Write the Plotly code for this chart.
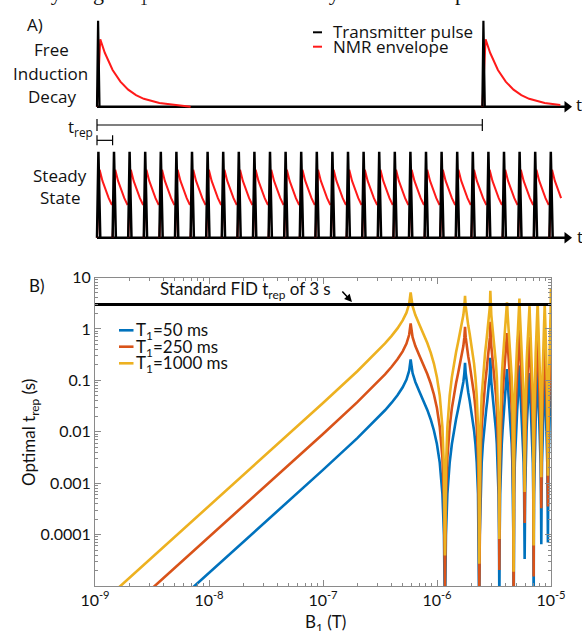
import plotly.graph_objects as go

W, H = 582, 631


def px(x):
    return x / W


def py(y):
    return 1 - y / H


# ---------------- Panel A data (time in units of the steady-state t_rep) ----------------
fid_pulse_times = [0.0, 24.7]
ss_pulse_times = [0, 1, 2, 3, 4, 5, 6, 7, 8, 9, 10, 11, 12, 13, 14,
                  15, 16, 17, 18, 19, 20, 21, 22, 23, 24, 25, 26, 27, 28, 29]
fid_pulse_dt = [0.0, 0.07, 0.16]
ss_pulse_dt = [0.0, 0.09, 0.21]
pulse_amp = [0.0, 1.0, 0.0]
fid_env_dt = [0.0, 0.21, 0.5, 1.0, 1.5, 2.0, 2.5, 3.0, 4.0, 5.0, 6.0]
fid_env_amp = [0.0, 0.784, 0.627, 0.427, 0.291, 0.198, 0.135, 0.0917, 0.0425, 0.0197, 0.0]
ss_env_dt = [0.0, 0.17, 0.35, 0.55, 0.75, 0.96]
ss_env_amp = [0.0, 0.79, 0.66, 0.55, 0.46, 0.38]
fid_trep = 24.7
ss_trep = 1.0
time_axis_end = 30.13
env_visible_end = 29.9

# ---------------- Panel B data ----------------
b1_uT = [
    0.001, 0.01, 0.05, 0.1, 0.2, 0.3, 0.35, 0.4, 0.45, 0.5, 0.54, 0.57, 0.5872,
    0.6107, 0.6459, 0.7046, 0.7634, 0.8221, 0.8808, 0.9395, 0.9982, 1.0570, 1.1157, 1.1509, 1.1744,
    1.1979, 1.2331, 1.2918, 1.3506, 1.4093, 1.4680, 1.5267, 1.5854, 1.6442, 1.7029, 1.7381, 1.7616,
    1.7851, 1.8203, 1.8790, 1.9378, 1.9965, 2.0552, 2.1139, 2.1726, 2.2314, 2.2901, 2.3253, 2.3488,
    2.3723, 2.4075, 2.4662, 2.5250, 2.5837, 2.6424, 2.7011, 2.7598, 2.8186, 2.8773, 2.9125, 2.9360,
    2.9595, 2.9947, 3.0534, 3.1122, 3.1709, 3.2296, 3.2883, 3.3470, 3.4058, 3.4645, 3.4997, 3.5232,
    3.5467, 3.5819, 3.6406, 3.6994, 3.7581, 3.8168, 3.8755, 3.9342, 3.9930, 4.0517, 4.0869, 4.1104,
    4.1339, 4.1691, 4.2278, 4.2866, 4.3453, 4.4040, 4.4627, 4.5214, 4.5802, 4.6389, 4.6741, 4.6976,
    4.7211, 4.7563, 4.8150, 4.8738, 4.9325, 4.9912, 5.0499, 5.1086, 5.1674, 5.2261, 5.2613, 5.2848,
    5.3083, 5.3435, 5.4022, 5.4610, 5.5197, 5.5784, 5.6371, 5.6958, 5.7546, 5.8133, 5.8485, 5.8720,
    5.8955, 5.9307, 5.9894, 6.0482, 6.1069, 6.1656, 6.2243, 6.2830, 6.3418, 6.4005, 6.4357, 6.4592,
    6.4827, 6.5179, 6.5766, 6.6354, 6.6941, 6.7528, 6.8115, 6.8702, 6.9290, 6.9877, 7.0229, 7.0464,
    7.0699, 7.1051, 7.1638, 7.2226, 7.2813, 7.3400, 7.3987, 7.4574, 7.5162, 7.5749, 7.6101, 7.6336,
    7.6571, 7.6923, 7.7510, 7.8098, 7.8685, 7.9272, 7.9859, 8.0446, 8.1034, 8.1621, 8.1973, 8.2208,
    8.2443, 8.2795, 8.3382, 8.3970, 8.4557, 8.5144, 8.5731, 8.6318, 8.6906, 8.7493, 8.7845, 8.8080,
    8.8315, 8.8667, 8.9254, 8.9842, 9.0429, 9.1016, 9.1603, 9.2190, 9.2778, 9.3365, 9.3717, 9.3952,
    9.4187, 9.4539, 9.5126, 9.5714, 9.6301, 9.6888, 9.7475, 9.8062, 9.8650, 9.9237, 9.9589, 9.9824,
    10.0059, 10.0411,
]

trep_1000ms = [
    3.578e-6, 3.578e-4, 8.97e-3, 0.03622, 0.1505, 0.364, 0.5229, 0.7338, 1.0247, 1.464, 2.0715, 3.079, 5.1,
    2.768, 1.855, 1.174, 0.7896, 0.5314, 0.3466, 0.2119, 0.1154, 0.0502, 0.01239, 0.00197, 3.9e-5,
    0.00197, 0.01239, 0.0502, 0.1154, 0.2119, 0.3466, 0.5314, 0.7896, 1.174, 1.855, 2.768, 4.4,
    2.768, 1.855, 1.174, 0.7896, 0.5314, 0.3466, 0.2119, 0.1154, 0.0502, 0.01239, 0.00197, 2.7e-5,
    0.00197, 0.01239, 0.0502, 0.1154, 0.2119, 0.3466, 0.5314, 0.7896, 1.174, 1.855, 2.768, 5.5,
    2.768, 1.855, 1.174, 0.7896, 0.5314, 0.3466, 0.2119, 0.1154, 0.0502, 0.01239, 0.00197, 8.2e-5,
    0.00197, 0.01239, 0.0502, 0.1154, 0.2119, 0.3466, 0.5314, 0.7896, 1.174, 1.855, 2.768, 3.3,
    2.768, 1.855, 1.174, 0.7896, 0.5314, 0.3466, 0.2119, 0.1154, 0.0502, 0.01239, 0.00197, 1.9e-5,
    0.00197, 0.01239, 0.0502, 0.1154, 0.2119, 0.3466, 0.5314, 0.7896, 1.174, 1.855, 2.768, 3.9,
    2.768, 1.855, 1.174, 0.7896, 0.5314, 0.3466, 0.2119, 0.1154, 0.0502, 0.01239, 0.00197, 6.7e-4,
    0.00197, 0.01239, 0.0502, 0.1154, 0.2119, 0.3466, 0.5314, 0.7896, 1.174, 1.855, 2.768, 2.7,
    2.768, 1.855, 1.174, 0.7896, 0.5314, 0.3466, 0.2119, 0.1154, 0.0502, 0.01239, 0.00197, 6.1e-5,
    0.00197, 0.01239, 0.0502, 0.1154, 0.2119, 0.3466, 0.5314, 0.7896, 1.174, 1.855, 2.768, 3.2,
    2.768, 1.855, 1.174, 0.7896, 0.5314, 0.3466, 0.2119, 0.1154, 0.0502, 0.01239, 0.00197, 1.3e-3,
    0.00197, 0.01239, 0.0502, 0.1154, 0.2119, 0.3466, 0.5314, 0.7896, 1.174, 1.855, 2.768, 3.0,
    2.768, 1.855, 1.174, 0.7896, 0.5314, 0.3466, 0.2119, 0.1154, 0.0502, 0.01239, 0.00197, 1.4e-3,
    0.00197, 0.01239, 0.0502, 0.1154, 0.2119, 0.3466, 0.5314, 0.7896, 1.174, 1.855, 2.768, 6.0,
    2.768, 1.855,
]

trep_250ms = [
    8.945e-7, 8.945e-5, 2.243e-3, 9.055e-3, 0.03763, 0.091, 0.1307, 0.1835, 0.2562, 0.366, 0.5179, 0.7698, 1.275,
    0.692, 0.4638, 0.2935, 0.1974, 0.1329, 0.0867, 0.053, 0.02885, 0.01255, 0.0031, 0.000493, 9.75e-6,
    0.000493, 0.0031, 0.01255, 0.02885, 0.053, 0.0867, 0.1329, 0.1974, 0.2935, 0.4638, 0.692, 1.1,
    0.692, 0.4638, 0.2935, 0.1974, 0.1329, 0.0867, 0.053, 0.02885, 0.01255, 0.0031, 0.000493, 6.75e-6,
    0.000493, 0.0031, 0.01255, 0.02885, 0.053, 0.0867, 0.1329, 0.1974, 0.2935, 0.4638, 0.692, 1.375,
    0.692, 0.4638, 0.2935, 0.1974, 0.1329, 0.0867, 0.053, 0.02885, 0.01255, 0.0031, 0.000493, 2.05e-5,
    0.000493, 0.0031, 0.01255, 0.02885, 0.053, 0.0867, 0.1329, 0.1974, 0.2935, 0.4638, 0.692, 0.825,
    0.692, 0.4638, 0.2935, 0.1974, 0.1329, 0.0867, 0.053, 0.02885, 0.01255, 0.0031, 0.000493, 4.75e-6,
    0.000493, 0.0031, 0.01255, 0.02885, 0.053, 0.0867, 0.1329, 0.1974, 0.2935, 0.4638, 0.692, 0.975,
    0.692, 0.4638, 0.2935, 0.1974, 0.1329, 0.0867, 0.053, 0.02885, 0.01255, 0.0031, 0.000493, 1.675e-4,
    0.000493, 0.0031, 0.01255, 0.02885, 0.053, 0.0867, 0.1329, 0.1974, 0.2935, 0.4638, 0.692, 0.675,
    0.692, 0.4638, 0.2935, 0.1974, 0.1329, 0.0867, 0.053, 0.02885, 0.01255, 0.0031, 0.000493, 1.525e-5,
    0.000493, 0.0031, 0.01255, 0.02885, 0.053, 0.0867, 0.1329, 0.1974, 0.2935, 0.4638, 0.692, 0.8,
    0.692, 0.4638, 0.2935, 0.1974, 0.1329, 0.0867, 0.053, 0.02885, 0.01255, 0.0031, 0.000493, 3.25e-4,
    0.000493, 0.0031, 0.01255, 0.02885, 0.053, 0.0867, 0.1329, 0.1974, 0.2935, 0.4638, 0.692, 0.75,
    0.692, 0.4638, 0.2935, 0.1974, 0.1329, 0.0867, 0.053, 0.02885, 0.01255, 0.0031, 0.000493, 3.5e-4,
    0.000493, 0.0031, 0.01255, 0.02885, 0.053, 0.0867, 0.1329, 0.1974, 0.2935, 0.4638, 0.692, 1.5,
    0.692, 0.4638,
]

trep_50ms = [
    1.789e-7, 1.789e-5, 4.485e-4, 1.811e-3, 7.525e-3, 0.0182, 0.02615, 0.03669, 0.05124, 0.0732, 0.1036, 0.154, 0.255,
    0.1384, 0.09275, 0.0587, 0.03948, 0.02657, 0.01733, 0.0106, 0.00577, 0.00251, 0.00062, 9.85e-5, 1.95e-6,
    9.85e-5, 0.00062, 0.00251, 0.00577, 0.0106, 0.01733, 0.02657, 0.03948, 0.0587, 0.09275, 0.1384, 0.22,
    0.1384, 0.09275, 0.0587, 0.03948, 0.02657, 0.01733, 0.0106, 0.00577, 0.00251, 0.00062, 9.85e-5, 1.35e-6,
    9.85e-5, 0.00062, 0.00251, 0.00577, 0.0106, 0.01733, 0.02657, 0.03948, 0.0587, 0.09275, 0.1384, 0.275,
    0.1384, 0.09275, 0.0587, 0.03948, 0.02657, 0.01733, 0.0106, 0.00577, 0.00251, 0.00062, 9.85e-5, 4.1e-6,
    9.85e-5, 0.00062, 0.00251, 0.00577, 0.0106, 0.01733, 0.02657, 0.03948, 0.0587, 0.09275, 0.1384, 0.165,
    0.1384, 0.09275, 0.0587, 0.03948, 0.02657, 0.01733, 0.0106, 0.00577, 0.00251, 0.00062, 9.85e-5, 9.5e-7,
    9.85e-5, 0.00062, 0.00251, 0.00577, 0.0106, 0.01733, 0.02657, 0.03948, 0.0587, 0.09275, 0.1384, 0.195,
    0.1384, 0.09275, 0.0587, 0.03948, 0.02657, 0.01733, 0.0106, 0.00577, 0.00251, 0.00062, 9.85e-5, 3.35e-5,
    9.85e-5, 0.00062, 0.00251, 0.00577, 0.0106, 0.01733, 0.02657, 0.03948, 0.0587, 0.09275, 0.1384, 0.135,
    0.1384, 0.09275, 0.0587, 0.03948, 0.02657, 0.01733, 0.0106, 0.00577, 0.00251, 0.00062, 9.85e-5, 3.05e-6,
    9.85e-5, 0.00062, 0.00251, 0.00577, 0.0106, 0.01733, 0.02657, 0.03948, 0.0587, 0.09275, 0.1384, 0.16,
    0.1384, 0.09275, 0.0587, 0.03948, 0.02657, 0.01733, 0.0106, 0.00577, 0.00251, 0.00062, 9.85e-5, 6.5e-5,
    9.85e-5, 0.00062, 0.00251, 0.00577, 0.0106, 0.01733, 0.02657, 0.03948, 0.0587, 0.09275, 0.1384, 0.15,
    0.1384, 0.09275, 0.0587, 0.03948, 0.02657, 0.01733, 0.0106, 0.00577, 0.00251, 0.00062, 9.85e-5, 7e-5,
    9.85e-5, 0.00062, 0.00251, 0.00577, 0.0106, 0.01733, 0.02657, 0.03948, 0.0587, 0.09275, 0.1384, 0.3,
    0.1384, 0.09275,
]

standard_fid_trep = 3.0
series_names = ["T<sub>1</sub>=50 ms", "T<sub>1</sub>=250 ms", "T<sub>1</sub>=1000 ms"]
series_colors = ["#0072BD", "#D95319", "#EDB120"]
x_tick_vals = [1e-9, 1e-8, 1e-7, 1e-6, 1e-5]
x_tick_text = ["10<sup>-9</sup>", "10<sup>-8</sup>", "10<sup>-7</sup>", "10<sup>-6</sup>", "10<sup>-5</sup>"]
y_tick_vals = [10, 1, 0.1, 0.01, 0.001, 0.0001]
y_tick_text = ["10", "1", "0.1", "0.01", "0.001", "0.0001"]

b1_T = [v * 1e-6 for v in b1_uT]


def build(times, dt, amp, tmax=None):
    xs, ys = [], []
    for t0 in times:
        for d, a in zip(dt, amp):
            if tmax is not None and t0 + d > tmax:
                break
            xs.append(t0 + d)
            ys.append(a)
        xs.append(None)
        ys.append(None)
    return xs, ys


fig = go.Figure()

# ---- Panel A: baselines
for yax in ["y2", "y3"]:
    fig.add_trace(go.Scatter(x=[0, time_axis_end], y=[0, 0], xaxis="x2", yaxis=yax, mode="lines",
                             line=dict(color="black", width=2.5), hoverinfo="skip"))

# NMR envelopes
ex, ey = build(fid_pulse_times, fid_env_dt, fid_env_amp, env_visible_end)
fig.add_trace(go.Scatter(x=ex, y=ey, xaxis="x2", yaxis="y2", mode="lines",
                         line=dict(color="#ff1a1a", width=2), hoverinfo="skip"))
ex, ey = build(ss_pulse_times, ss_env_dt, ss_env_amp, env_visible_end)
fig.add_trace(go.Scatter(x=ex, y=ey, xaxis="x2", yaxis="y3", mode="lines",
                         line=dict(color="#ff1a1a", width=2), hoverinfo="skip"))

# Transmitter pulses
pxs, pys = build(fid_pulse_times, fid_pulse_dt, pulse_amp)
fig.add_trace(go.Scatter(x=pxs, y=pys, xaxis="x2", yaxis="y2", mode="lines",
                         line=dict(color="black", width=2.2), hoverinfo="skip"))
pxs, pys = build(ss_pulse_times, ss_pulse_dt, pulse_amp)
fig.add_trace(go.Scatter(x=pxs, y=pys, xaxis="x2", yaxis="y3", mode="lines",
                         line=dict(color="black", width=2.5), hoverinfo="skip"))

# arrow heads of the time axes
for yax in ["y2", "y3"]:
    fig.add_trace(go.Scatter(x=[time_axis_end], y=[0], xaxis="x2", yaxis=yax, mode="markers",
                             marker=dict(symbol="triangle-right", size=10, color="black"),
                             hoverinfo="skip", cliponaxis=False))

# t_rep brackets (on the FID axis, below the baseline)
br1_y, br1_h = -0.213, 0.07
br2_y, br2_h = -0.391, 0.058
fig.add_trace(go.Scatter(
    x=[0, 0, None, 0, fid_trep, None, fid_trep, fid_trep],
    y=[br1_y - br1_h, br1_y + br1_h, None, br1_y, br1_y, None, br1_y - br1_h, br1_y + br1_h],
    xaxis="x2", yaxis="y2", mode="lines", line=dict(color="black", width=1.2), hoverinfo="skip"))
fig.add_trace(go.Scatter(
    x=[0, 0, None, 0, ss_trep, None, ss_trep, ss_trep],
    y=[br2_y - br2_h, br2_y + br2_h, None, br2_y, br2_y, None, br2_y - br2_h, br2_y + br2_h],
    xaxis="x2", yaxis="y2", mode="lines", line=dict(color="black", width=1.2), hoverinfo="skip"))

# ---- Panel B
for vals, name, col in zip([trep_50ms, trep_250ms, trep_1000ms], series_names, series_colors):
    fig.add_trace(go.Scatter(x=b1_T, y=vals, mode="lines", name=name,
                             line=dict(color=col, width=2.6), hoverinfo="skip"))
fig.add_trace(go.Scatter(x=[1e-9, 1e-5], y=[standard_fid_trep, standard_fid_trep], mode="lines",
                         line=dict(color="black", width=3), hoverinfo="skip"))

minor_x = [k * 10.0 ** e for e in range(-9, -5) for k in range(2, 10)]
minor_y = [k * 10.0 ** e for e in range(-5, 1) for k in range(2, 10)]

fa = dict(family="Open Sans", size=17, color="#111")
fb = dict(family="Lato", size=17, color="#111")

ann = []


def text(x, y, s, font, xanchor="center", yanchor="middle", **kw):
    ann.append(dict(x=px(x), y=py(y), xref="paper", yref="paper", text=s, showarrow=False,
                    font=font, xanchor=xanchor, yanchor=yanchor, **kw))


# cut-off body text at the very top
text(11, -6, "every single B<sub>1</sub> value simultaneously. But what is possible",
     dict(family="Liberation Serif", size=22, color="#111"), xanchor="left")
text(35, 25, "A)", fa)
text(51.5, 50, "Free", fa)
text(50, 73.5, "Induction", fa)
text(51.5, 97, "Decay", fa)
text(60, 175, "Steady", fa)
text(60, 198, "State", fa)
text(331, 31.5, "Transmitter pulse", fa, xanchor="left")
text(331, 46, "NMR envelope", fa, xanchor="left")
text(579, 105, "t", fa)
text(580, 236, "t", fa)
text(80, 127, "t<sub>rep</sub>", fa)

text(36.5, 285, "B)", fb)
text(158, 290, "Standard FID t<sub>rep</sub> of 3 s", fb, xanchor="left")
text(134, 331, series_names[0], fb, xanchor="left")
text(134, 347.5, series_names[1], fb, xanchor="left")
text(134, 364, series_names[2], fb, xanchor="left")
text(30, 433, "Optimal t<sub>rep</sub> (s)", fb, textangle=-90)
text(325, 623, "B<sub>1</sub> (T)", fb)

# arrow from the label to the 3 s line
ann.append(dict(x=-6.746, y=0.525, xref="x", yref="y", ax=-11, ay=-12, text="", showarrow=True,
                arrowhead=2, arrowsize=1, arrowwidth=1.5, arrowcolor="black"))

shapes = [
    dict(type="line", xref="paper", yref="paper", x0=px(313), x1=px(322), y0=py(32.3), y1=py(32.3),
         line=dict(color="black", width=2)),
    dict(type="line", xref="paper", yref="paper", x0=px(313), x1=px(322), y0=py(46.7), y1=py(46.7),
         line=dict(color="#ff1a1a", width=2)),
]
for yy, col in zip([330.3, 346.7, 363.3], series_colors):
    shapes.append(dict(type="line", xref="paper", yref="paper", x0=px(119), x1=px(133.5),
                       y0=py(yy), y1=py(yy), line=dict(color=col, width=2.6)))

axis_common = dict(showline=True, linecolor="#8a8a8a", linewidth=1, mirror="ticks", ticks="inside",
                   ticklen=6, tickcolor="#8a8a8a", showgrid=False, zeroline=False, automargin=False,
                   tickfont=dict(family="Lato", size=16, color="#111"))

fig.update_layout(
    width=W, height=H, margin=dict(l=0, r=0, t=0, b=0, pad=0, autoexpand=False),
    paper_bgcolor="white", plot_bgcolor="rgba(0,0,0,0)", showlegend=False,
    xaxis=dict(type="log", range=[-9, -5], domain=[px(95), px(551)], anchor="y",
               tickvals=x_tick_vals, ticktext=x_tick_text,
               minor=dict(ticks="inside", ticklen=3, tickcolor="#8a8a8a", tickvals=minor_x),
               **axis_common),
    yaxis=dict(type="log", range=[-5, 1], domain=[py(586), py(277.5)], anchor="x",
               tickvals=y_tick_vals, ticktext=y_tick_text,
               minor=dict(ticks="inside", ticklen=3, tickcolor="#8a8a8a", tickvals=minor_y),
               **axis_common),
    xaxis2=dict(domain=[0, 1], range=[-97 / 15.6, 485 / 15.6], anchor="y2", visible=False,
                automargin=False),
    yaxis2=dict(domain=[py(260), 1], range=[-(260 - 106.7) / 86, 106.7 / 86], anchor="x2",
                visible=False, automargin=False),
    yaxis3=dict(range=[-(260 - 237.7) / 86, 237.7 / 86], anchor="x2", overlaying="y2",
                visible=False, automargin=False),
    annotations=ann,
    shapes=shapes,
)

fig.write_html("out.html")
